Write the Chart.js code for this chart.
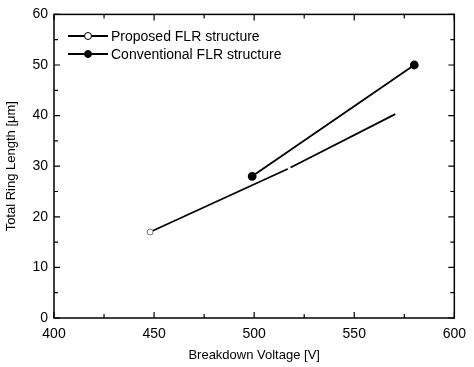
<!DOCTYPE html>
<html>
<head>
<meta charset="utf-8">
<script src="https://cdn.jsdelivr.net/npm/chart.js@4"></script>
<style>
  html, body { margin: 0; padding: 0; background: #fff; }
  #wrap { width: 474px; height: 367px; }
</style>
</head>
<body>
<div id="wrap"><canvas id="flrChart" width="474" height="367"></canvas></div>
<script>
// series
const proposedX = [448, 517.5, 570.5];
const proposedY = [17, 29.6, 40.3];
const conventionalX = [499, 580];
const conventionalY = [28, 50];
const seriesNames = ['Proposed FLR structure', 'Conventional FLR structure'];
const xTitle = 'Breakdown Voltage [V]';
const yTitle = 'Total Ring Length [\u03bcm]';

const FONT = 'Arial, "Liberation Sans", sans-serif';

const toPoints = (xs, ys) => xs.map((x, i) => ({ x: x, y: ys[i] }));

// frame, inward ticks and the legend inside the plot
const framePlugin = {
    id: 'frame',
    afterDraw(chart) {
        const c = chart.ctx;
        const a = chart.chartArea;
        const xs = chart.scales.x, ys = chart.scales.y;
        c.save();
        c.strokeStyle = '#000';
        c.lineWidth = 1.5;
        c.strokeRect(a.left, a.top, a.right - a.left, a.bottom - a.top);
        c.lineWidth = 1.2;
        for (let v = 400; v <= 600; v += 25) {
            const p = xs.getPixelForValue(v);
            const len = v % 50 === 0 ? 6 : 4;
            c.beginPath();
            c.moveTo(p, a.bottom); c.lineTo(p, a.bottom - len);
            c.moveTo(p, a.top); c.lineTo(p, a.top + len);
            c.stroke();
        }
        for (let v = 0; v <= 60; v += 5) {
            const p = ys.getPixelForValue(v);
            const len = v % 10 === 0 ? 6 : 4;
            c.beginPath();
            c.moveTo(a.left, p); c.lineTo(a.left + len, p);
            c.moveTo(a.right, p); c.lineTo(a.right - len, p);
            c.stroke();
        }
        // legend
        c.font = '14px ' + FONT;
        c.textBaseline = 'middle';
        c.fillStyle = '#000';
        const rows = [36, 54];
        chart.data.datasets.forEach((ds, i) => {
            const y = rows[i];
            c.lineWidth = 1.8;
            c.beginPath();
            c.moveTo(68, y); c.lineTo(108, y);
            c.stroke();
            c.beginPath();
            c.arc(88, y, 3.5, 0, Math.PI * 2);
            c.fillStyle = i === 0 ? '#fff' : '#000';
            c.fill();
            c.lineWidth = 1;
            c.stroke();
            c.fillStyle = '#000';
            c.fillText(ds.label, 111, y + 1);
        });
        c.restore();
    }
};

const ctx = document.getElementById('flrChart').getContext('2d');
const flrChart = new Chart(ctx, {
    type: 'scatter',
    data: {
        datasets: [{
            label: seriesNames[0],
            data: toPoints(proposedX, proposedY),
            showLine: true,
            borderColor: '#000',
            borderWidth: 1.8,
            pointRadius: [3, 1.2, 0],
            pointBackgroundColor: '#fff',
            pointBorderColor: ['#777', '#fff', '#fff'],
            pointBorderWidth: 1
        }, {
            label: seriesNames[1],
            data: toPoints(conventionalX, conventionalY),
            showLine: true,
            borderColor: '#000',
            borderWidth: 1.8,
            pointRadius: 3.5,
            pointBackgroundColor: '#000',
            pointBorderColor: '#000'
        }]
    },
    options: {
        responsive: false,
        animation: false,
        layout: { padding: { top: 14, right: 12, left: 0, bottom: 0 } },
        plugins: { legend: { display: false }, tooltip: { enabled: false } },
        scales: {
            x: {
                type: 'linear', min: 400, max: 600,
                grid: { display: false, drawTicks: false },
                border: { display: false },
                ticks: { stepSize: 50, color: '#000', font: { family: FONT, size: 14 }, padding: 8 },
                title: { display: true, text: xTitle, color: '#000', font: { family: FONT, size: 13 }, padding: { top: 9 } },
                afterFit(s) { s.height = 49; }
            },
            y: {
                type: 'linear', min: 0, max: 60,
                grid: { display: false, drawTicks: false },
                border: { display: false },
                ticks: { stepSize: 10, color: '#000', font: { family: FONT, size: 14 }, padding: 6 },
                title: { display: true, text: yTitle, color: '#000', font: { family: FONT, size: 13 }, padding: { top: 4, bottom: 4 } },
                afterFit(s) { s.width = 54; }
            }
        }
    },
    plugins: [framePlugin]
});
</script>
</body>
</html>
